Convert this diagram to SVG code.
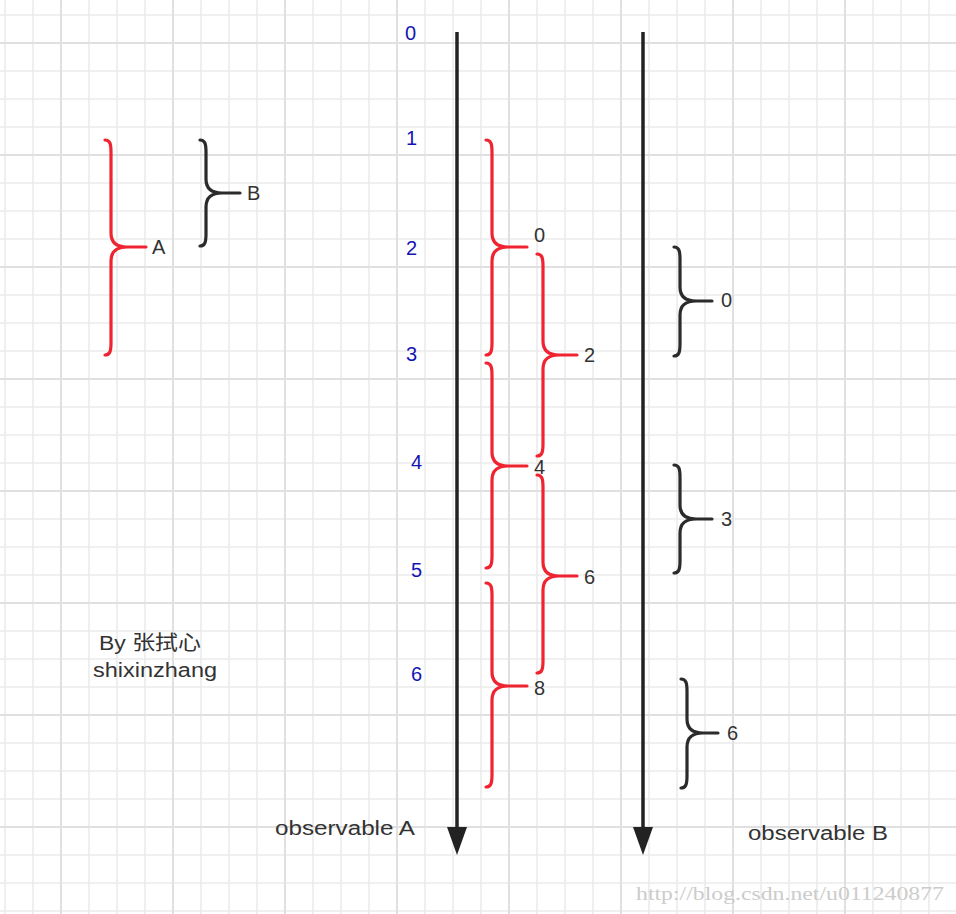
<svg xmlns="http://www.w3.org/2000/svg" width="956" height="914" viewBox="0 0 956 914">
<style>
.minor{stroke:#ececec;stroke-width:1.6;fill:none}
.major{stroke:#e0e0e0;stroke-width:2;fill:none}
.red{stroke:#ef2430;stroke-width:3.2;fill:none;stroke-linecap:round;stroke-linejoin:round}
.blk{stroke:#2b2b2b;stroke-width:3.2;fill:none;stroke-linecap:round;stroke-linejoin:round}
.axis{stroke:#222;stroke-width:3.5}
.head{fill:#222}
.num{font-family:"Liberation Sans",Arial,sans-serif;font-size:20px;fill:#1414b4}
.lbl{font-family:"Liberation Sans",Arial,sans-serif;font-size:20px;fill:#333}
.wm{font-family:"Liberation Serif","Times New Roman",serif;font-size:18px;fill:#cccccc}
</style>
<rect width="956" height="914" fill="#ffffff"/>
<g id="grid">
<path class="minor" d="M5,0V914M33,0V914M89,0V914M117,0V914M145,0V914M201,0V914M229,0V914M257,0V914M313,0V914M341,0V914M369,0V914M425,0V914M453,0V914M481,0V914M537,0V914M565,0V914M593,0V914M649,0V914M677,0V914M705,0V914M761,0V914M789,0V914M817,0V914M873,0V914M901,0V914M929,0V914M0,15H956M0,71H956M0,99H956M0,127H956M0,183H956M0,211H956M0,239H956M0,295H956M0,323H956M0,351H956M0,407H956M0,435H956M0,463H956M0,519H956M0,547H956M0,575H956M0,631H956M0,659H956M0,687H956M0,743H956M0,771H956M0,799H956M0,855H956M0,883H956M0,911H956"/>
<path class="major" d="M61,0V914M173,0V914M285,0V914M397,0V914M509,0V914M621,0V914M733,0V914M845,0V914M0,43H956M0,155H956M0,267H956M0,379H956M0,491H956M0,603H956M0,715H956M0,827H956"/>
</g>
<g id="connectors">
<line class="axis" x1="457" y1="32" x2="457" y2="830"/>
<polygon class="head" points="447,827 467,827 457,855"/>
<line class="axis" x1="643" y1="32" x2="643" y2="830"/>
<polygon class="head" points="633,827 653,827 643,855"/>
</g>
<g id="ticks">
<text class="num" x="405" y="40">0</text>
<text class="num" x="406" y="145">1</text>
<text class="num" x="406" y="255">2</text>
<text class="num" x="406" y="361">3</text>
<text class="num" x="411" y="469">4</text>
<text class="num" x="411" y="577">5</text>
<text class="num" x="411" y="681">6</text>
</g>
<g id="legend-A">
<path class="red" d="M105,140 C110,140 111,144 111,152 L111,233 C111,243 117,247 127,247 L146,247 M127,247 C117,247 111,251 111,261 L111,343 C111,351 110,355 105,355"/>
<text class="lbl" x="152" y="254">A</text>
</g>
<g id="legend-B">
<path class="blk" d="M200,140 C205,140 206,144 206,152 L206,179 C206,189 212,193 222,193 L240,193 M222,193 C212,193 206,197 206,207 L206,234 C206,242 205,246 200,246"/>
<text class="lbl" x="247" y="200">B</text>
</g>
<g id="a-0">
<path class="red" d="M486,140 C491,140 492,144 492,152 L492,233 C492,243 498,247 508,247 L527,247 M508,247 C498,247 492,251 492,261 L492,343 C492,351 491,355 486,355"/>
<text class="lbl" x="534" y="242">0</text>
</g>
<g id="a-4">
<path class="red" d="M486,363 C491,363 492,367 492,375 L492,452 C492,462 498,466 508,466 L527,466 M508,466 C498,466 492,470 492,480 L492,556 C492,564 491,568 486,568"/>
<text class="lbl" x="534" y="474">4</text>
</g>
<g id="a-8">
<path class="red" d="M486,583 C491,583 492,587 492,595 L492,672 C492,682 498,686 508,686 L527,686 M508,686 C498,686 492,690 492,700 L492,775 C492,783 491,787 486,787"/>
<text class="lbl" x="534" y="695">8</text>
</g>
<g id="a-2">
<path class="red" d="M537,254 C542,254 543,258 543,266 L543,341 C543,351 549,355 559,355 L577,355 M559,355 C549,355 543,359 543,369 L543,444 C543,452 542,456 537,456"/>
<text class="lbl" x="584" y="362">2</text>
</g>
<g id="a-6">
<path class="red" d="M537,475 C542,475 543,479 543,487 L543,562 C543,572 549,576 559,576 L577,576 M559,576 C549,576 543,580 543,590 L543,661 C543,669 542,673 537,673"/>
<text class="lbl" x="584" y="584">6</text>
</g>
<g id="b-0">
<path class="blk" d="M674,247 C679,247 680,251 680,259 L680,287 C680,297 686,301 696,301 L712,301 M696,301 C686,301 680,305 680,315 L680,344 C680,352 679,356 674,356"/>
<text class="lbl" x="721" y="307">0</text>
</g>
<g id="b-3">
<path class="blk" d="M674,465 C679,465 680,469 680,477 L680,505 C680,515 686,519 696,519 L712,519 M696,519 C686,519 680,523 680,533 L680,561 C680,569 679,573 674,573"/>
<text class="lbl" x="721" y="526">3</text>
</g>
<g id="b-6">
<path class="blk" d="M681,679 C686,679 687,683 687,691 L687,719 C687,729 693,733 703,733 L718,733 M703,733 C693,733 687,737 687,747 L687,776 C687,784 686,788 681,788"/>
<text class="lbl" x="727" y="740">6</text>
</g>
<g id="captions">
<text class="lbl" x="275" y="835" textLength="140" lengthAdjust="spacingAndGlyphs">observable A</text>
<text class="lbl" x="748" y="840" textLength="140" lengthAdjust="spacingAndGlyphs">observable B</text>
<text class="lbl" x="99" y="650" textLength="102" lengthAdjust="spacingAndGlyphs" style="font-family:'Liberation Sans','Noto Sans CJK SC',sans-serif">By 张拭心</text>
<text class="lbl" x="93" y="677" textLength="124" lengthAdjust="spacingAndGlyphs">shixinzhang</text>
<text class="wm" x="636" y="900" textLength="308" lengthAdjust="spacingAndGlyphs">http://blog.csdn.net/u011240877</text>
</g>
</svg>
